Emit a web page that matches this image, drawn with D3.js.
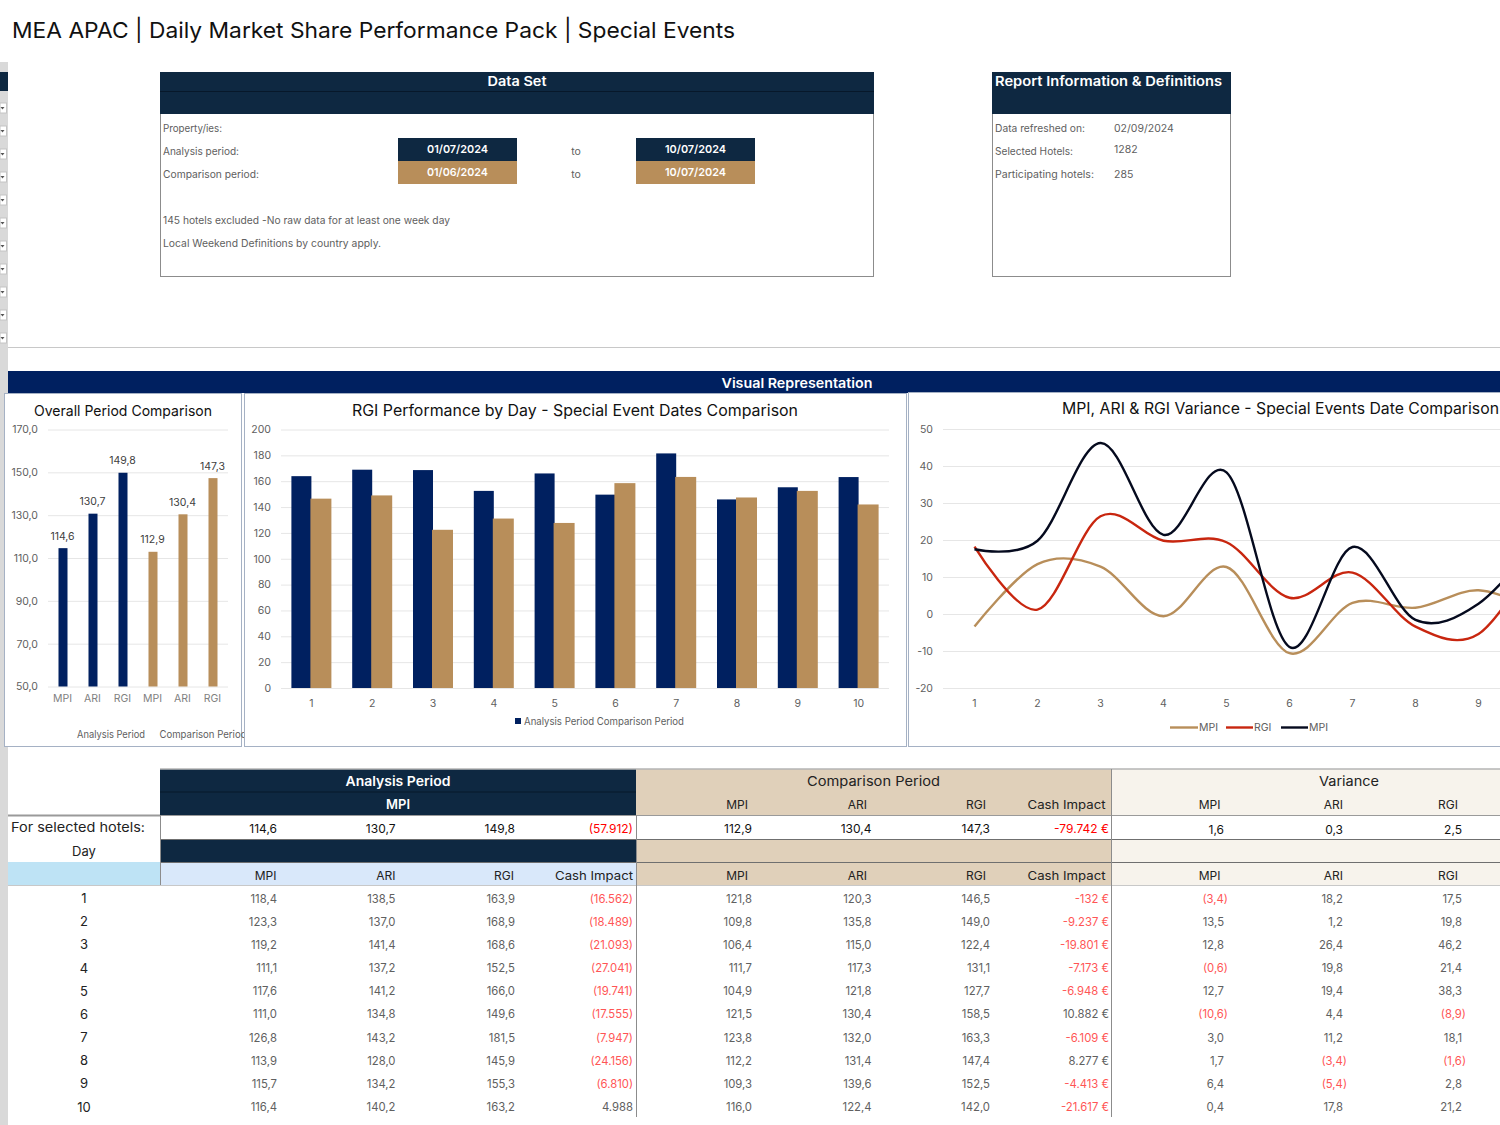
<!DOCTYPE html>
<html><head><meta charset="utf-8"><script src="https://cdn.jsdelivr.net/npm/d3@7"></script>
<style>html,body{margin:0;padding:0;background:#fff;overflow:hidden}svg{display:block}text{font-family:Inter,"Open Sans",sans-serif}</style></head>
<body><svg id="c" width="1500" height="1125"></svg>
<script>
const days=[1,2,3,4,5,6,7,8,9,10];
const overallLabels=["MPI","ARI","RGI","MPI","ARI","RGI"];
const overallValues=[114.6,130.7,149.8,112.9,130.4,147.3];
const aMPI=[118.4,123.3,119.2,111.1,117.6,111.0,126.8,113.9,115.7,116.4];
const aARI=[138.5,137.0,141.4,137.2,141.2,134.8,143.2,128.0,134.2,140.2];
const aRGI=[163.9,168.9,168.6,152.5,166.0,149.6,181.5,145.9,155.3,163.2];
const aCash=["(16.562)","(18.489)","(21.093)","(27.041)","(19.741)","(17.555)","(7.947)","(24.156)","(6.810)","4.988"];
const cMPI=[121.8,109.8,106.4,111.7,104.9,121.5,123.8,112.2,109.3,116.0];
const cARI=[120.3,135.8,115.0,117.3,121.8,130.4,132.0,131.4,139.6,122.4];
const cRGI=[146.5,149.0,122.4,131.1,127.7,158.5,163.3,147.4,152.5,142.0];
const cCash=["-132 €","-9.237 €","-19.801 €","-7.173 €","-6.948 €","10.882 €","-6.109 €","8.277 €","-4.413 €","-21.617 €"];
const vMPI=[-3.4,13.5,12.8,-0.6,12.7,-10.6,3.0,1.7,6.4,0.4];
const vARI=[18.2,1.2,26.4,19.8,19.4,4.4,11.2,-3.4,-5.4,17.8];
const vRGI=[17.5,19.8,46.2,21.4,38.3,-8.9,18.1,-1.6,2.8,21.2];
const totalsA=["114,6","130,7","149,8","(57.912)"];
const totalsC=["112,9","130,4","147,3","-79.742 €"];
const totalsV=["1,6","0,3","2,5"];

const NAVY="#002060",DARK="#0E2841",TAN="#B88E5A",GREY="#606060",RED="#FF5555",BORDER="#A5B1C4";
const svg=d3.select("#c");
const rect=(x,y,w,h,f,s)=>svg.append("rect").attr("x",x).attr("y",y).attr("width",w).attr("height",h).attr("fill",f).attr("stroke",s||"none");
const line=(x1,y1,x2,y2,c,w)=>svg.append("line").attr("x1",x1).attr("y1",y1).attr("x2",x2).attr("y2",y2).attr("stroke",c||"#8c8c8c").attr("stroke-width",w||1);
function txt(s,x,y,o={},g){const t=(g||svg).append("text").attr("x",x).attr("y",y).text(s).attr("font-size",o.size||10.5).attr("fill",o.fill||GREY).attr("text-anchor",o.anchor||"start").attr("font-weight",o.weight||400).attr("dominant-baseline","central");
 if(o.len)t.attr("textLength",o.len).attr("lengthAdjust","spacingAndGlyphs");return t;}
const comma=d=>d3.format(".1f")(d).replace(".",",");
const paren=d=>d<0?"("+comma(-d)+")":comma(d);

// left strip and slicers
rect(0,62,8,1063,"#D9D9D9");
rect(0,72,8,19,DARK);
d3.range(11).forEach(i=>{const y=103+i*23;rect(0,y,6.5,10,"#fff","#c4c4c4");svg.append("path").attr("d",`M0.5 ${y+4}h4l-2 2.5z`).attr("fill","#555");});

txt("MEA APAC | Daily Market Share Performance Pack | Special Events",12,30,{size:22,fill:"#111",len:723});

// data set box
rect(160.5,72.5,713,204,"#fff","#8c8c8c");
rect(160,72,714,42,DARK);line(160,91.5,874,91.5,"#07182a");
txt("Data Set",517,81,{size:13,fill:"#fff",anchor:"middle",weight:600,len:59});
const dsRows=[["Property/ies:",128,59],["Analysis period:",151,76],["Comparison period:",174,96],["145 hotels excluded -No raw data for at least one week day",220,287],["Local Weekend Definitions by country apply.",243,218]];
dsRows.forEach(r=>txt(r[0],163,r[1],{size:10.5,len:r[2]}));
[[398,138,DARK,"01/07/2024"],[636,138,DARK,"10/07/2024"],[398,161,TAN,"01/06/2024"],[636,161,TAN,"10/07/2024"]].forEach(d=>{rect(d[0],d[1],119,23,d[2]);txt(d[3],d[0]+59.5,d[1]+11,{size:11,fill:"#fff",anchor:"middle",weight:600,len:61});});
txt("to",576,151,{anchor:"middle"});txt("to",576,174,{anchor:"middle"});

// report box
rect(992.5,72.5,238,204,"#fff","#8c8c8c");
rect(992,72,239,42,DARK);
txt("Report Information & Definitions",995,81,{size:13,fill:"#fff",weight:600,len:227});
[["Data refreshed on:",128,90,"02/09/2024"],["Selected Hotels:",151,78,"1282"],["Participating hotels:",174,99,"285"]].forEach((r,i)=>{txt(r[0],995,r[1],{size:10.5,len:r[2]});txt(r[3],1114,[128,149,174][i],{size:10.5});});

line(8,347.5,1500,347.5,"#c8c8c8");
rect(8,371,1492,22,NAVY);
txt("Visual Representation",797,383,{size:13.5,fill:"#fff",anchor:"middle",weight:600,len:151});

function gridAxis(g,scale,x0,x1,fmt,vals){
 const a=g.append("g").attr("transform",`translate(${x1},0)`).call(d3.axisLeft(scale).tickValues(vals).tickSize(x1-x0).tickFormat(fmt));
 a.select(".domain").remove();a.selectAll("line").attr("stroke","#E6E6E6");
 a.selectAll("text").attr("fill",GREY).attr("font-size",10.5).attr("dx",-7);
 return a;
}

// chart 1
rect(4.5,393.5,237,353,"#fff",BORDER);
const g1=svg.append("g");
txt("Overall Period Comparison",123,410,{size:14.5,fill:"#111",anchor:"middle",len:178},g1);
const y1=d3.scaleLinear().domain([50,170]).range([686.5,429.5]);
const x1=d3.scaleBand().domain(d3.range(6)).range([48,228]).paddingInner(.7).paddingOuter(.35);
gridAxis(g1,y1,48,228,d=>comma(d),d3.range(50,171,20));
g1.selectAll(".b").data(overallValues).join("rect").attr("x",(d,i)=>x1(i)).attr("width",x1.bandwidth()).attr("y",d=>y1(d)).attr("height",d=>y1(50)-y1(d)).attr("fill",(d,i)=>i<3?NAVY:TAN);
overallValues.forEach((d,i)=>{const cx=x1(i)+x1.bandwidth()/2;txt(comma(d),cx-.5,y1(d)-12,{anchor:"middle",fill:"#404040",size:10.5},g1);txt(overallLabels[i],cx-.5,698,{anchor:"middle",fill:"#7f7f7f",size:10.5},g1);});
txt("Analysis Period",111,734,{anchor:"middle",size:10.5,len:68},g1);
txt("Comparison Period",159.5,734,{size:10.5,len:87},g1);

// chart 2
rect(244.5,393.5,662,353,"#fff",BORDER);
const g2=svg.append("g");
txt("RGI Performance by Day - Special Event Dates Comparison",575,410.5,{size:15.5,fill:"#111",anchor:"middle",len:446},g2);
const y2=d3.scaleLinear().domain([0,200]).range([688,429.5]);
const x2=d3.scaleBand().domain(days).range([281,889]).padding(0);
gridAxis(g2,y2,281,889,d=>d,d3.range(0,201,20));
const bw=20;
g2.selectAll(".n").data(aRGI).join("rect").attr("x",(d,i)=>x2(days[i])+x2.bandwidth()/2-bw).attr("width",bw).attr("y",d=>y2(d)).attr("height",d=>y2(0)-y2(d)).attr("fill",NAVY);
g2.selectAll(".t").data(cRGI).join("rect").attr("x",(d,i)=>x2(days[i])+x2.bandwidth()/2-1).attr("width",bw+1).attr("y",d=>y2(d)).attr("height",d=>y2(0)-y2(d)).attr("fill",TAN);
days.forEach(d=>txt(d,x2(d)+x2.bandwidth()/2,703,{anchor:"middle",size:10.5},g2));
rect(515,718,6,6,NAVY);
txt("Analysis Period Comparison Period",524,721,{size:10.5,len:160},g2);

// chart 3
rect(908.5,392.5,600,354,"#fff",BORDER);
const g3=svg.append("g");
txt("MPI, ARI & RGI Variance - Special Events Date Comparison",1062,408.5,{size:15.5,fill:"#111",len:437},g3);
const y3=d3.scaleLinear().domain([-20,50]).range([688,429]);
const x3=d3.scalePoint().domain(days).range([974.5,1541.5]);
gridAxis(g3,y3,943,1510,d=>d,d3.range(-20,51,10));
const ln=d3.line().x((d,i)=>x3(days[i])).y(d=>y3(d)).curve(d3.curveCardinal.tension(0));
[[vMPI,TAN],[vARI,"#C8260F"],[vRGI,"#050A1E"]].forEach(s=>g3.append("path").attr("d",ln(s[0])).attr("fill","none").attr("stroke",s[1]).attr("stroke-width",2.4));
days.filter(d=>x3(d)<1500).forEach(d=>txt(d,x3(d),703,{anchor:"middle",size:10.5},g3));
[[1170,28,TAN,"MPI"],[1226,27,"#C8260F","RGI"],[1281,27,"#050A1E","MPI"]].forEach(l=>{line(l[0],727.5,l[0]+l[1],727.5,l[2],2.4);txt(l[3],l[0]+l[1]+1,727.5,{size:10.5},g3);});

// table bands
const AX=160,CX=636,VX=1111,END=1500;
[[769,46,DARK,"#E0D0BA","#F7F3EC"],[839,23,DARK,"#E0D0BA","#F7F3EC"],[862,23,"#D9E8FA","#E0D0BA","#F7F3EC"]].forEach(r=>{rect(AX,r[0],CX-AX,r[1],r[2]);rect(CX,r[0],VX-CX,r[1],r[3]);rect(VX,r[0],END-VX,r[1],r[4]);});
rect(8,862,152,23,"#BEE3F5");
line(AX,769,END,769,"#b5b5b5",1.5);
line(AX,792,CX,792,"#07182a");
line(8,815.5,AX,815.5,"#9a9a9a",2);
line(AX,815.5,END,815.5,"#9a9a9a",1);
line(AX,839.5,END,839.5,"#6f6f6f",1);
line(AX,862.5,END,862.5,"#6f6f6f",1);
line(8,885.5,END,885.5,"#c8c8c8",1);
[[AX,815,885],[CX,815,1117],[VX,769,1117]].forEach(l=>line(l[0]+.5,l[1],l[0]+.5,l[2],"#8c8c8c"));

txt("Analysis Period",398,781,{size:13,fill:"#fff",anchor:"middle",weight:600,len:105});
txt("MPI",398,803.5,{size:13,fill:"#fff",anchor:"middle",weight:600});
txt("Comparison Period",873.5,781,{size:13,fill:"#222",anchor:"middle",len:133});
txt("Variance",1349,781,{size:13,fill:"#222",anchor:"middle",len:60});
txt("For selected hotels:",78,827,{size:13,fill:"#222",anchor:"middle",len:134});
txt("Day",84,851,{size:13,fill:"#222",anchor:"middle"});

const headers=["MPI","ARI","RGI","Cash Impact"];
const colsA=[276.5,395.5,514,633],colsC=[748,867,986,1105.5],colsV=[1220.5,1343,1458];
const hCash={size:12,fill:"#222",anchor:"end",len:78};
headers.forEach((h,i)=>{const o=i==3?hCash:{size:12,fill:"#222",anchor:"end"};
 txt(h,colsA[i],875,o);txt(h,colsC[i],875,o);txt(h,colsC[i],804,o);
 if(i<3){txt(h,colsV[i],875,o);txt(h,colsV[i],804,o);}});
const valsA=[277,395.5,515,633],valsC=[752,871.5,990,1109],valsV=[1224,1343,1462];
totalsA.forEach((t,i)=>txt(t,valsA[i],828,{size:12,fill:i==3?"#FF0000":"#111",anchor:"end"}));
totalsC.forEach((t,i)=>txt(t,valsC[i],828,{size:12,fill:i==3?"#FF0000":"#111",anchor:"end"}));
totalsV.forEach((t,i)=>txt(t,valsV[i],829,{size:12,fill:"#111",anchor:"end"}));

const rowY=d3.scalePoint().domain(days).range([898,1106.5]);
days.forEach((d,i)=>{const y=rowY(d);
 txt(d,84,y,{size:13,fill:"#222",anchor:"middle"});
 const cell=(s,x,red)=>txt(s,x,y+.5,{size:11.3,fill:red?RED:GREY,anchor:"end"});
 cell(comma(aMPI[i]),valsA[0]);cell(comma(aARI[i]),valsA[1]);cell(comma(aRGI[i]),valsA[2]);cell(aCash[i],valsA[3],aCash[i][0]=="(");
 cell(comma(cMPI[i]),valsC[0]);cell(comma(cARI[i]),valsC[1]);cell(comma(cRGI[i]),valsC[2]);cell(cCash[i],valsC[3],cCash[i][0]=="-");
 [vMPI,vARI,vRGI].forEach((a,j)=>cell(paren(a[i]),valsV[j]+(a[i]<0?4:0),a[i]<0));
});
</script></body></html>
